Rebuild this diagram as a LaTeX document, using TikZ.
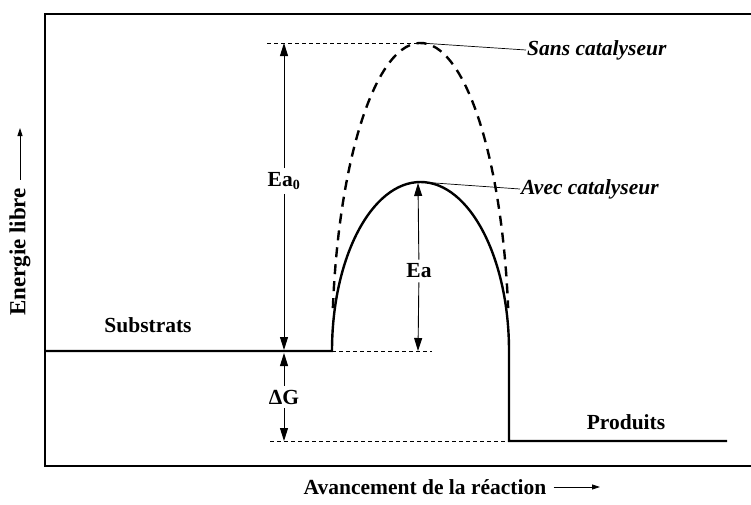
\documentclass[tikz,border=0pt]{standalone}
\usepackage{fontspec}
\setmainfont{Liberation Serif}
\usetikzlibrary{arrows.meta}
\begin{document}
\begin{tikzpicture}[x=1pt,y=-1pt,
  thickline/.style={line width=2.4pt},
  lab/.style={font=\fontsize{21.5}{24}\selectfont\bfseries, inner sep=1pt},
  itlab/.style={font=\fontsize{21.5}{24}\selectfont\bfseries\itshape, inner sep=1pt, anchor=west},
  dimtip/.style={line width=0.9pt, -{Triangle[length=13pt,width=8pt]}},
  axtip/.style={line width=0.8pt, -{Triangle[length=8pt,width=5pt]}},
  guide/.style={line width=0.9pt, dash pattern=on 4pt off 3pt},
  leader/.style={line width=0.7pt}]
\useasboundingbox (0,0) rectangle (751,504);
% frame
\draw[thickline] (755,14) -- (45,14) -- (45,466) -- (755,466);
% levels
\coordinate (s0) at (45,351);
\coordinate (s1) at (332,351);
\coordinate (p0) at (509,441);
\coordinate (p1) at (727,441);
\coordinate (peak0) at (420.5,43);
\coordinate (peak1) at (420.5,182);
% guides
\draw[guide] (267,43) -- (peak0);
\draw[guide] (s1) -- (432,351);
\draw[guide] (270,441) -- (p0);
% uncatalysed (dashed)
\draw[thickline, dash pattern=on 10pt off 7pt] (420.5,351) ++(172:88.5pt and 308pt)
  arc[start angle=172, end angle=8, x radius=88.5pt, y radius=308pt];
% catalysed (solid)
\draw[thickline] (s0) -- (s1) arc[start angle=180, end angle=0, x radius=88.5pt, y radius=169pt] -- (p0) -- (p1);
% Ea0
\node[lab, fill=white, inner sep=4pt] (ea0) at (284,181) {Ea\textsubscript{\fontsize{14}{16}\selectfont 0}};
\coordinate (ea0t) at (284,43);
\coordinate (ea0b) at (284,350);
\draw[dimtip] (ea0) -- (ea0t);
\draw[dimtip] (ea0) -- (ea0b);
% Delta G
\node[lab, fill=white, inner sep=4pt] (dg) at (284,397) {ΔG};
\coordinate (dgt) at (284,353);
\coordinate (dgb) at (284,441);
\draw[dimtip] (dg) -- (dgt);
\draw[dimtip] (dg) -- (dgb);
% Ea
\node[lab, fill=white, inner sep=4pt] (ea) at (419,271) {Ea};
\coordinate (eat) at (418,183);
\coordinate (eab) at (418,351);
\draw[dimtip] (ea) -- (eat);
\draw[dimtip] (ea) -- (eab);
% labels
\node[lab] (sub) at (148,325) {Substrats};
\node[lab] (prod) at (626,422) {Produits};
\node[itlab] (sans) at (526,50) {Sans catalyseur};
\node[itlab] (avec) at (520,189) {Avec catalyseur};
\draw[leader] (peak0) -- (sans.west);
\draw[leader] (peak1) -- (avec.west);
% axes labels
\node[lab, rotate=90, font=\fontsize{23}{26}\selectfont\bfseries] (ylab) at (20,252) {Energie libre};
\coordinate (ytip) at (20,128);
\draw[axtip] ([shift={(0,-7)}]ylab.east) -- (ytip);
\node[lab, anchor=base] (xlab) at (425,494) {Avancement de la réaction};
\coordinate (xtip) at (600,487);
\draw[axtip] (xlab.east |- xtip) ++(6,0) -- (xtip);
\end{tikzpicture}
\end{document}
